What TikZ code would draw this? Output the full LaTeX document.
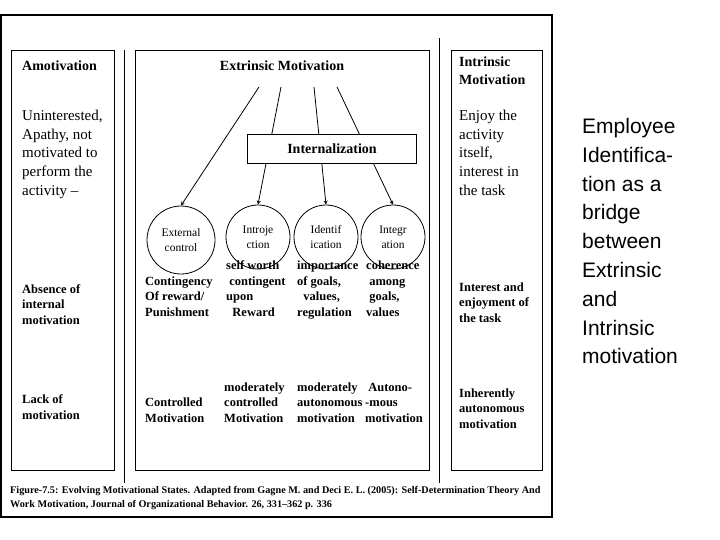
\documentclass[tikz,border=0pt]{standalone}
\usepackage{fontspec}
\setmainfont{Liberation Serif}
\newfontfamily\sidefont{Liberation Sans}
\begin{document}
\begin{tikzpicture}[x=1pt,y=-1pt,
  txt/.style={anchor=west,inner sep=0pt,font=\fontsize{15}{18.6}\selectfont,align=left},
  hd/.style={anchor=west,inner sep=0pt,font=\bfseries\fontsize{14}{18}\selectfont,align=left},
  bt/.style={anchor=base west,inner sep=0pt,font=\bfseries\fontsize{12.5}{15.4}\selectfont,align=left},
  circ/.style={draw,thick,circle,minimum size=64pt,inner sep=0pt,align=center,font=\fontsize{11.5}{15}\selectfont},
  arr/.style={-stealth,thick},
  box/.style={draw,thick}]
\useasboundingbox (0,0) rectangle (720,540);
\draw[line width=1.6pt] (1,15) rectangle (552,517);
\draw[box] (11,50) rectangle (114,470);
\draw[box] (135,50) rectangle (429,470);
\draw[box] (451,50) rectangle (542,470);
\draw[thick] (124,50) -- (124,483);
\draw[thick] (439,38) -- (439,483);
\node[hd] (am) at (22,66) {Amotivation};
\node[hd,anchor=center] (em) at (282,66) {Extrinsic Motivation};
\node[hd,anchor=north west] (im) at (459,57) {Intrinsic\\Motivation};
\node[txt,anchor=north west] (un) at (22,110) {Uninterested,\\Apathy, not\\motivated to\\perform the\\activity --};
\node[txt,anchor=north west] (en) at (459,110) {Enjoy the\\activity\\itself,\\interest in\\the task};
\coordinate (s1) at (259,87); \coordinate (s2) at (281,87);
\coordinate (s3) at (314,87); \coordinate (s4) at (337,87);
\node[circ,minimum size=68pt] (c1) at (181,240) {External\\control};
\node[circ] (c2) at (258,237) {Introje\\ction};
\node[circ] (c3) at (326,237) {Identif\\ication};
\node[circ] (c4) at (393,237) {Integr\\ation};
\draw[arr] (s1) -- (c1.north);
\draw[arr] (s2) -- (c2.north);
\draw[arr] (s3) -- (c3.north);
\draw[arr] (s4) -- (c4.north);
\node[box,fill=white,minimum width=169pt,minimum height=29pt,font=\bfseries\fontsize{14}{16}\selectfont] (in) at (332,149) {Internalization};
\node[bt] (a1) at (22,324) {Absence of\\internal\\motivation};
\node[bt] (a2) at (22,419) {Lack of\\motivation};
\node[bt] (b1) at (145,316) {Contingency\\Of reward/\\Punishment};
\node[bt] (b2) at (226,316) {self worth\\\ contingent\\upon\\\ \ Reward};
\node[bt] (b3) at (297,316) {importance\\of goals,\\\ \ values,\\regulation};
\node[bt] (b4) at (366,316) {coherence\\\ among\\\ goals,\\values};
\node[bt] (i1) at (459,322) {Interest and\\enjoyment of\\the task};
\node[bt] (d1) at (145,422) {Controlled\\Motivation};
\node[bt] (d2) at (224,422) {moderately\\controlled\\Motivation};
\node[bt] (d3) at (297,422) {moderately\\autonomous\\motivation};
\node[bt] (d4) at (365,422) {\ Autono-\\-mous\\motivation};
\node[bt] (i2) at (459,428) {Inherently\\autonomous\\motivation};
\node[anchor=north west,inner sep=0pt,align=left,font=\bfseries\fontsize{10.2}{14}\selectfont] (cap) at (10,486) {Figure-7.5: Evolving Motivational States. Adapted from Gagne M. and Deci E. L. (2005): Self-Determination Theory And\\Work Motivation, Journal of Organizational Behavior. 26, 331--362 p. 336};
\node[anchor=north west,inner sep=0pt,align=left,font=\sidefont\fontsize{21}{28.8}\selectfont] (side) at (582,118) {Employee\\Identifica-\\tion as a\\bridge\\between\\Extrinsic\\and\\Intrinsic\\motivation};
\end{tikzpicture}
\end{document}
